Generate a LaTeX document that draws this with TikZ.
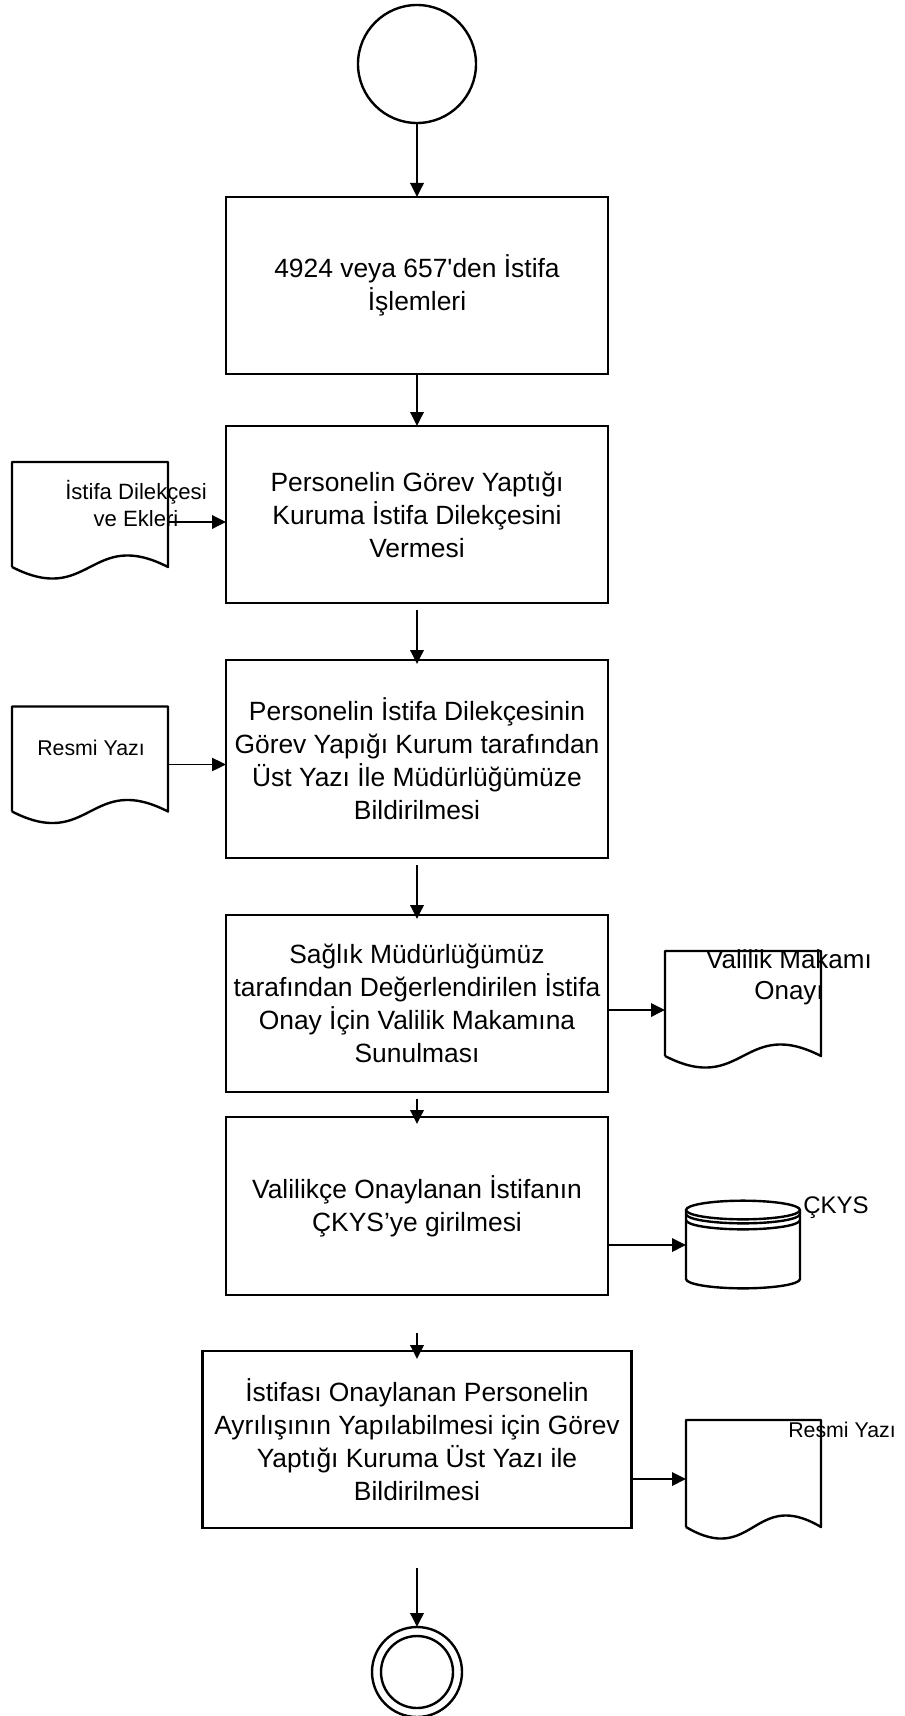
\documentclass[tikz,border=0pt]{standalone}
\usepackage{fontspec}
\setmainfont{Liberation Sans}
\usetikzlibrary{arrows.meta,positioning,calc}

\begin{document}
\begin{tikzpicture}[x=0.75pt,y=-0.75pt,
  proc/.style={draw,line width=1.8pt,minimum width=286.5pt,minimum height=132.75pt,inner sep=0pt,outer sep=0pt,align=center,font=\fontsize{19.8}{24.75}\selectfont},
  doc/.style={minimum width=117pt,minimum height=78.75pt,inner sep=0pt,outer sep=0pt},
  docline/.style={line width=1.8pt,line join=round},
  arr/.style={-{Triangle[length=10.5pt,width=10pt]},line width=1.8pt},
  lbl/.style={inner sep=0pt,align=center}]
\useasboundingbox (0,0) rectangle (905,1716);
\node [circle,draw,line width=1.8pt,minimum size=88.5pt,inner sep=0pt,outer sep=0pt] (start) at (417,64) {};
\node [proc] (b1) at (417,285.5) {4924 veya 657\textquotesingle den İstifa\\İşlemleri};
\node [proc] (b2) [below=39pt of b1] {Personelin Görev Yaptığı\\Kuruma İstifa Dilekçesini\\Vermesi};
\node [proc,minimum height=148.5pt] (b3) [below=42.75pt of b2] {Personelin İstifa Dilekçesinin\\Görev Yapığı Kurum tarafından\\Üst Yazı İle Müdürlüğümüze\\Bildirilmesi};
\node [proc] (b4) [below=42.75pt of b3] {Sağlık Müdürlüğümüz\\tarafından Değerlendirilen İstifa\\Onay İçin Valilik Makamına\\Sunulması};
\node [proc,minimum height=133.5pt] (b5) [below=18.75pt of b4] {Valilikçe Onaylanan İstifanın\\ÇKYS’ye girilmesi};
\node [proc,minimum width=321.75pt] (b6) [below=42pt of b5] {İstifası Onaylanan Personelin\\Ayrılışının Yapılabilmesi için Görev\\Yaptığı Kuruma Üst Yazı ile\\Bildirilmesi};
\node [circle,draw,line width=1.8pt,minimum size=67.5pt,inner sep=0pt,outer sep=0pt] (fin) at (417,1672) {};
\node [circle,draw,line width=1.8pt,minimum size=54pt,inner sep=0pt] (finin) at (fin) {};

\node [doc] (d1) [left=43.5pt of b2] {};
\node [doc] (d2) [left=43.5pt of b3] {};
\node [doc] (d3) [right=42.75pt of b4] {};
\node [doc,minimum width=101.25pt,minimum height=80.25pt] (d4) at (753.5,1473.5) {};
\node [minimum width=85.5pt,minimum height=65.25pt,inner sep=0pt,outer sep=0pt] (db) at (743,1245) {};
\foreach \d/\w in {d1/78,d2/78,d3/78,d4/67.5}
  \draw [docline] (\d.south west) -- (\d.north west) -- (\d.north east) -- (\d.south east)
    .. controls +(-\w,-40) and +(\w,40) .. (\d.south west);
\draw [docline] (686,1210) -- (686,1279) arc [start angle=180,end angle=360,x radius=42.75pt,y radius=7pt] -- (800,1210);
\draw [docline] (743,1210) ellipse [x radius=42.75pt,y radius=7pt];
\draw [docline] (686,1214) arc [start angle=180,end angle=360,x radius=42.75pt,y radius=7pt];
\draw [docline] (686,1220) arc [start angle=180,end angle=360,x radius=42.75pt,y radius=7pt];

\node [lbl,font=\fontsize{16.6}{20.25}\selectfont] (d1t) at (136,503.5) {İstifa Dilekçesi\\ve Ekleri};
\node [lbl,font=\fontsize{16}{19}\selectfont] (d2t) at (91,748) {Resmi Yazı};
\node [lbl,font=\fontsize{19.5}{23.25}\selectfont] (d3t) at (789,977.5) {Valilik Makamı\\Onayı};
\node [lbl,font=\fontsize{18}{21}\selectfont] (dbt) at (836,1208) {ÇKYS};
\node [lbl,font=\fontsize{16}{19}\selectfont] (d4t) at (842,1430) {Resmi Yazı};

\draw [arr] (start) -- (b1);
\draw [arr] (b1) -- (b2);
\draw [arr] ([yshift=-5.25pt]b2.south) -- ([yshift=-3pt]b3.north);
\draw [arr] ([yshift=-5.25pt]b3.south) -- ([yshift=-3pt]b4.north);
\draw [arr] ([yshift=-5.25pt]b4.south) -- ([yshift=-5.25pt]b5.north);
\draw [arr] ([yshift=-28.5pt]b5.south) -- ([yshift=-6pt]b6.north);
\draw [arr] ([yshift=-30pt]b6.south) -- (fin.north);
\draw [arr] ($(d1.east)+(0,7.5)$) -- ($(d1.east -| b2.west)+(0,7.5)$);
\draw [arr,line width=0.9pt] ($(d2.east)+(0,5.5)$) -- ($(d2.east -| b3.west)+(0,5.5)$);
\draw [arr] ($(b4.east)+(0,6.5)$) -- ($(b4.east -| d3.west)+(0,6.5)$);
\draw [arr] (b5.east |- db.west) -- (db.west);
\draw [arr] ($(d4.west -| b6.east)+(0,5.5)$) -- ($(d4.west)+(0,5.5)$);
\end{tikzpicture}
\end{document}
